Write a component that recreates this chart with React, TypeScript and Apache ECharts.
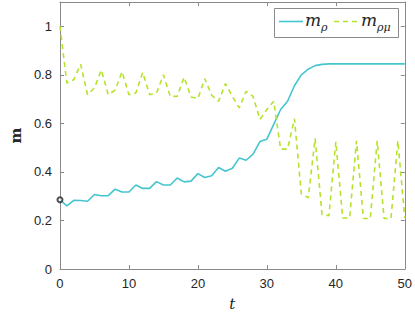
import React, { useEffect, useRef } from "react";
import * as echarts from "echarts";

const tValues: number[] = Array.from({ length: 51 }, (_, i) => i);

const mRho: number[] = [
  0.285, 0.26, 0.283, 0.282, 0.279, 0.307, 0.302, 0.302, 0.329, 0.317,
  0.317, 0.346, 0.332, 0.332, 0.36, 0.346, 0.346, 0.375, 0.359, 0.362,
  0.393, 0.377, 0.384, 0.418, 0.403, 0.415, 0.457, 0.448, 0.473, 0.525,
  0.535, 0.596, 0.657, 0.691, 0.755, 0.8, 0.823, 0.838, 0.843, 0.845,
  0.845, 0.845, 0.845, 0.845, 0.845, 0.845, 0.845, 0.845, 0.845, 0.845, 0.845,
];

const mRhoMu: number[] = [
  1.0, 0.766, 0.78, 0.843, 0.718, 0.746, 0.82, 0.718, 0.737, 0.813,
  0.718, 0.725, 0.81, 0.718, 0.725, 0.8, 0.711, 0.711, 0.79, 0.709,
  0.702, 0.784, 0.716, 0.691, 0.764, 0.711, 0.664, 0.732, 0.711, 0.616,
  0.657, 0.691, 0.494, 0.494, 0.619, 0.31, 0.293, 0.538, 0.224, 0.22,
  0.524, 0.21, 0.21, 0.528, 0.208, 0.208, 0.528, 0.208, 0.208, 0.528, 0.21,
];

const xTicks = { min: 0, max: 50, interval: 10 };
const yTicks = { min: 0, max: 1.1, interval: 0.2 };

const CYAN = "#45C6CF";
const LIME = "#B5E32B";
const AXIS = "#8a8a8a";
const TXT = "#262626";

export default function App() {
  const ref = useRef<HTMLDivElement>(null);
  useEffect(() => {
    if (!ref.current) return;
    const chart = echarts.init(ref.current, null, { renderer: "svg" });
    const tick = { show: true, inside: true, length: 4, lineStyle: { color: AXIS } };
    const line = { show: true, onZero: false, lineStyle: { color: AXIS, width: 1 } };
    const label = { fontFamily: "'Liberation Sans', Arial, sans-serif", fontSize: 13, color: TXT };
    chart.setOption({
      animation: false,
      backgroundColor: "#ffffff",
      grid: { left: 51, right: 10, top: 2, bottom: 45 },
      xAxis: [
        {
          type: "value", ...xTicks, position: "bottom",
          axisLine: line, axisTick: tick, splitLine: { show: false },
          axisLabel: { ...label, margin: 8 },
          name: "t", nameLocation: "middle", nameGap: 27,
          nameTextStyle: { fontFamily: "DejaVu Serif, serif", fontStyle: "italic", fontSize: 15, color: TXT },
        },
        {
          type: "value", ...xTicks, position: "top",
          axisLine: line, axisTick: tick, splitLine: { show: false }, axisLabel: { show: false },
        },
      ],
      yAxis: [
        {
          type: "value", ...yTicks, position: "left",
          axisLine: line, axisTick: tick, splitLine: { show: false },
          axisLabel: { ...label, margin: 8, formatter: (v: number) => (v > 1.05 ? "" : String(Math.round(v * 10) / 10)) },
          name: "m", nameLocation: "middle", nameGap: 32,
          nameTextStyle: { fontFamily: "DejaVu Serif, serif", fontWeight: "bold", fontSize: 15, color: TXT },
        },
        {
          type: "value", ...yTicks, position: "right",
          axisLine: line, axisTick: tick, splitLine: { show: false }, axisLabel: { show: false },
        },
      ],
      series: [
        {
          type: "line", name: "m_rho", data: tValues.map((t, i) => [t, mRho[i]]),
          showSymbol: false, lineStyle: { color: CYAN, width: 1.6 }, itemStyle: { color: CYAN },
        },
        {
          type: "line", name: "m_rhomu", data: tValues.map((t, i) => [t, mRhoMu[i]]),
          showSymbol: false, lineStyle: { color: LIME, width: 1.6, type: [5, 4] }, itemStyle: { color: LIME },
        },
        {
          type: "scatter", data: [[tValues[0], mRho[0]]], symbol: "emptyCircle", symbolSize: 5,
          itemStyle: { color: "#222", borderColor: "#222", borderWidth: 1 }, z: 5,
        },
      ],
      graphic: [
        { type: "rect", left: 274, top: 8, shape: { width: 124, height: 29 }, style: { fill: "#fff", stroke: AXIS, lineWidth: 1 }, z: 100 },
        { type: "line", shape: { x1: 279, y1: 21.5, x2: 303, y2: 21.5 }, style: { stroke: CYAN, lineWidth: 1.6 }, z: 101 },
        { type: "text", left: 305, top: 11, style: { text: "m", font: "italic 17px 'DejaVu Serif', serif", fill: TXT }, z: 101 },
        { type: "text", left: 321, top: 22, style: { text: "ρ", font: "italic 11px 'DejaVu Serif', serif", fill: TXT }, z: 101 },
        { type: "line", shape: { x1: 334, y1: 21.5, x2: 359, y2: 21.5 }, style: { stroke: LIME, lineWidth: 1.6, lineDash: [5, 4] }, z: 101 },
        { type: "text", left: 361, top: 11, style: { text: "m", font: "italic 17px 'DejaVu Serif', serif", fill: TXT }, z: 101 },
        { type: "text", left: 377, top: 22, style: { text: "ρμ", font: "italic 11px 'DejaVu Serif', serif", fill: TXT }, z: 101 },
      ],
    });
    return () => chart.dispose();
  }, []);
  return <div ref={ref} style={{ width: 415, height: 316, position: "absolute", left: 0, top: 0 }} />;
}
